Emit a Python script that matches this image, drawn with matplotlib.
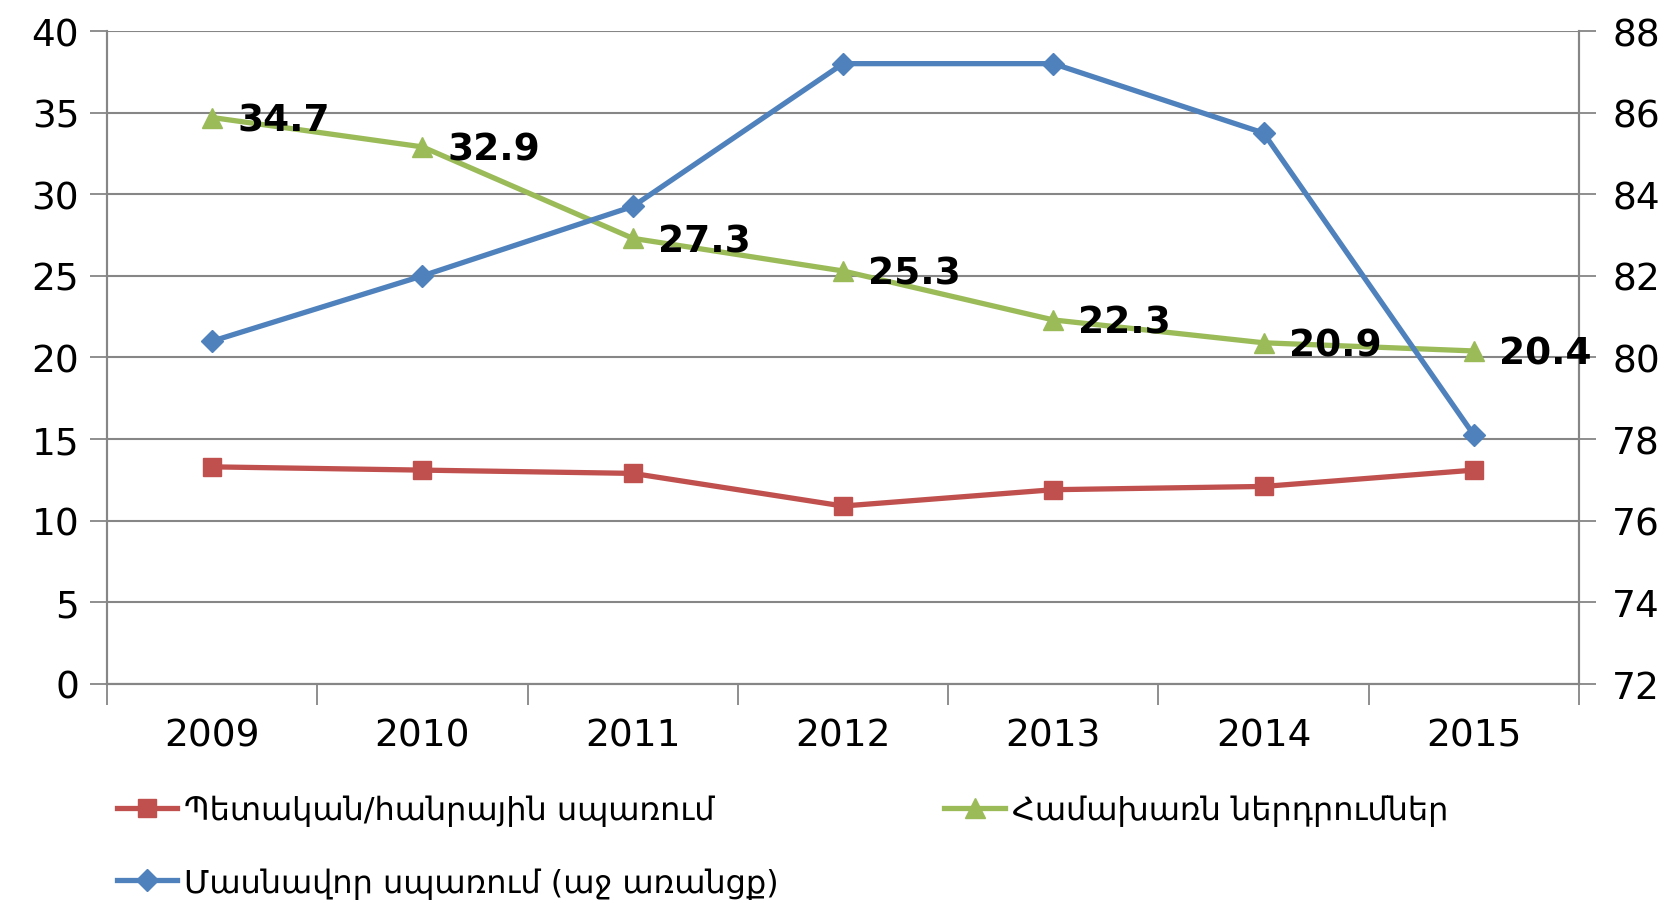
import matplotlib
matplotlib.use("Agg")
import matplotlib.pyplot as plt
from matplotlib.lines import Line2D

# data
years = ["2009", "2010", "2011", "2012", "2013", "2014", "2015"]
public_cons = [13.3, 13.1, 12.9, 10.9, 11.9, 12.1, 13.1]
investment = [34.7, 32.9, 27.3, 25.3, 22.3, 20.9, 20.4]
private_cons = [80.4, 82.0, 83.7, 87.2, 87.2, 85.5, 78.1]

lbl_public = "Պետական/հանրային սպառում"
lbl_invest = "Համախառն ներդրումներ"
lbl_private = "Մասնավոր սպառում (աջ առանցք)"

plt.rcParams["font.family"] = ["DejaVu Sans"]

RED = "#C0504D"
GREEN = "#9BBB59"
BLUE = "#4F81BD"
GRAY = "#868686"
LW = 3.8

fig = plt.figure(figsize=(16.75, 9.04), dpi=100)
ax = fig.add_axes([0.0639, 0.2423, 0.8788, 0.7223])
ax2 = ax.twinx()

x = list(range(len(years)))

ax.plot(x, public_cons, color=RED, lw=LW, marker="s", ms=13, zorder=3)
ax.plot(x, investment, color=GREEN, lw=LW, marker="^", ms=14, zorder=3)
ax2.plot(x, private_cons, color=BLUE, lw=LW, marker="D", ms=11, zorder=3)

# data labels for the green series (drawn on ax2 so they stay on top)
for xi, v in zip(x, investment):
    ax2.annotate(f"{v:.1f}", xy=(xi, v), xycoords=ax.transData, xytext=(18, -2),
                 textcoords="offset points", ha="left", va="center",
                 fontsize=27, fontweight="bold", color="black", zorder=5)

# axes
ax.set_xlim(-0.5, 6.5)
ax.set_ylim(0, 40)
ax.set_yticks(range(0, 41, 5))
ax2.set_ylim(72, 88)
ax2.set_yticks(range(72, 89, 2))

ax.set_xticks([i - 0.5 for i in range(len(years) + 1)])
ax.set_xticklabels([])
ax.set_xticks(x, minor=True)
ax.set_xticklabels(years, minor=True)
ax.tick_params(axis="x", which="major", direction="out", length=15, width=1.3, color=GRAY)
ax.tick_params(axis="x", which="minor", length=0, pad=24, labelsize=27)
ax.tick_params(axis="y", direction="out", length=12, width=1.3, color=GRAY, labelsize=27, pad=8)
ax2.tick_params(axis="y", direction="out", length=12, width=1.3, color=GRAY, labelsize=27, pad=12)

ax.grid(axis="y", color=GRAY, lw=1.5)
ax.set_axisbelow(True)

for a in (ax, ax2):
    a.spines["top"].set_visible(False)
    for s in ("left", "right", "bottom"):
        a.spines[s].set_color(GRAY)
        a.spines[s].set_linewidth(1.5)

handles = [
    Line2D([], [], color=RED, lw=LW, marker="s", ms=13),
    Line2D([], [], color=BLUE, lw=LW, marker="D", ms=11),
    Line2D([], [], color=GREEN, lw=LW, marker="^", ms=14),
]
fig.legend(handles, [lbl_public, lbl_private, lbl_invest], ncol=2, frameon=False,
           loc="upper left", bbox_to_anchor=(0.062, 0.134), fontsize=23,
           handlelength=1.9, handletextpad=0.2, columnspacing=5.2, labelspacing=1.28,
           borderaxespad=0)

fig.savefig("out.png", dpi=100)
